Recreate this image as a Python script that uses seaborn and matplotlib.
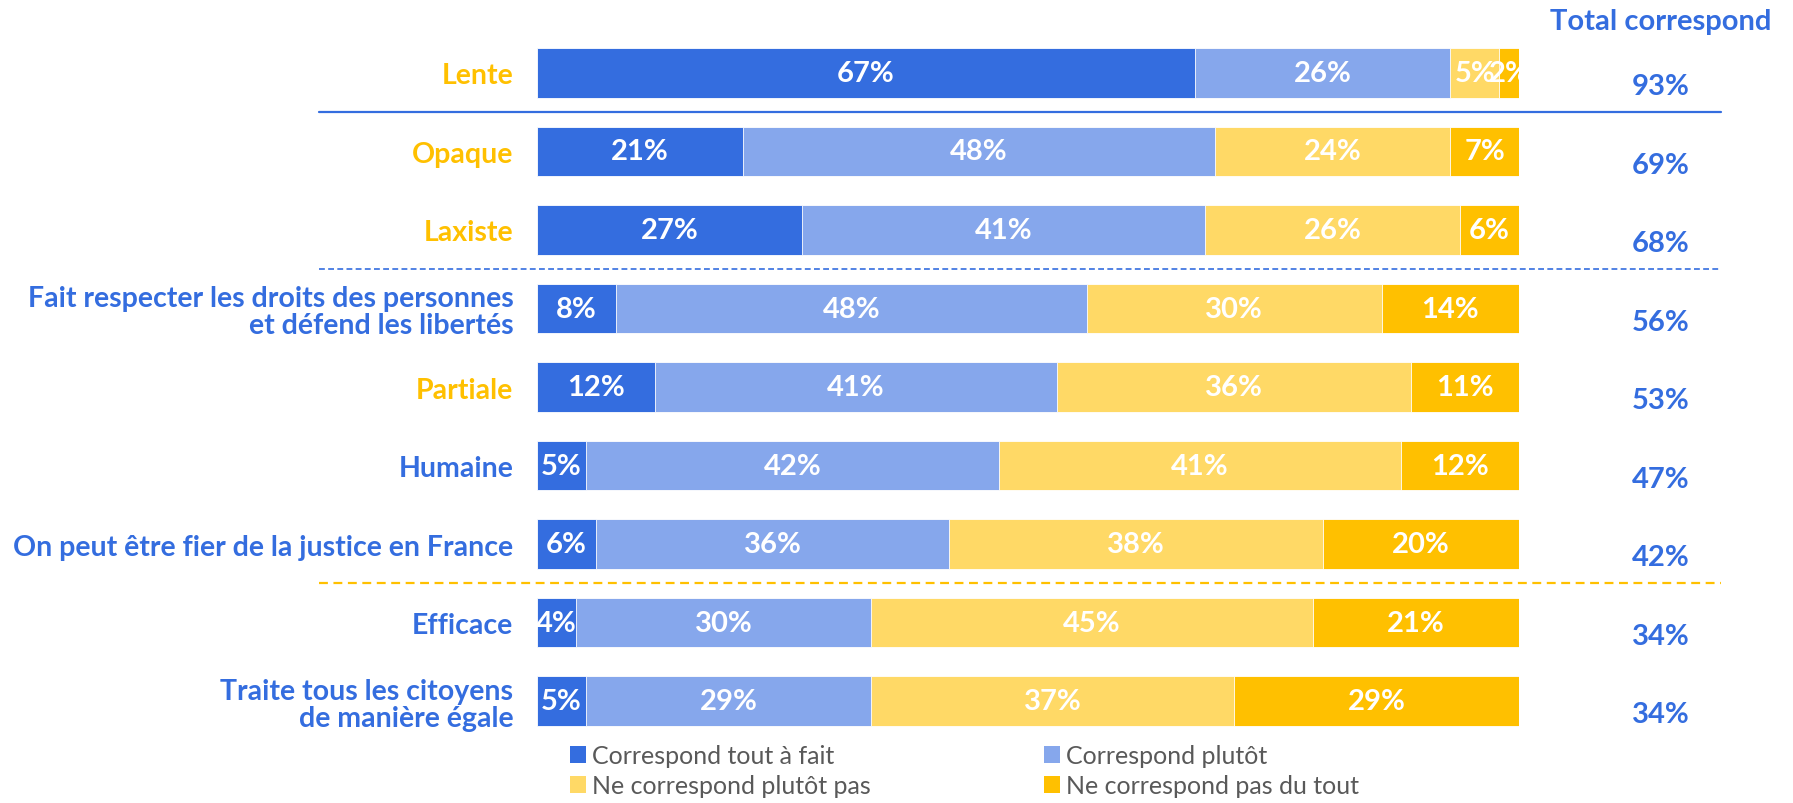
import numpy as np
import pandas as pd
import matplotlib
matplotlib.use("Agg")
import matplotlib.pyplot as plt
from matplotlib.patches import Patch
import seaborn as sns

# Survey items (top to bottom)
categories = [
    "Lente",
    "Opaque",
    "Laxiste",
    "Fait respecter les droits des personnes\net défend les libertés",
    "Partiale",
    "Humaine",
    "On peut être fier de la justice en France",
    "Efficace",
    "Traite tous les citoyens\nde manière égale",
]
# Shares of answers, in %
tout_a_fait = [67, 21, 27, 8, 12, 5, 6, 4, 5]
plutot = [26, 48, 41, 48, 41, 42, 36, 30, 29]
plutot_pas = [5, 24, 26, 30, 36, 41, 38, 45, 37]
pas_du_tout = [2, 7, 6, 14, 11, 12, 20, 21, 29]
total_correspond = [93, 69, 68, 56, 53, 47, 42, 34, 34]

series_names = [
    "Correspond tout à fait",
    "Correspond plutôt",
    "Ne correspond plutôt pas",
    "Ne correspond pas du tout",
]
negative_items = ["Lente", "Opaque", "Laxiste", "Partiale"]

BLUE = "#346DDF"
LIGHT_BLUE = "#86A7EC"
LIGHT_YELLOW = "#FFD966"
YELLOW = "#FFC000"
GREY = "#595959"
colors = [BLUE, LIGHT_BLUE, LIGHT_YELLOW, YELLOW]

sns.set_theme(style="white")
plt.rcParams["font.family"] = ["Lato", "DejaVu Sans"]

fig = plt.figure(figsize=(17.93, 8.04), dpi=100)
ax = fig.add_axes([0.2995, 0.078, 0.5477, 0.8788])

series = np.array([tout_a_fait, plutot, plutot_pas, pas_du_tout])
cum = np.cumsum(series, axis=0)
df = pd.DataFrame({"item": categories})

# Stacked bars: draw cumulative layers from the last segment to the first
for k in range(3, -1, -1):
    df["value"] = cum[k]
    sns.barplot(data=df, x="value", y="item", orient="h", order=categories,
                color=colors[k], saturation=1, width=0.63,
                edgecolor="white", linewidth=0.6, ax=ax)

# Segment labels
for k in range(4):
    for i in range(len(categories)):
        val = series[k, i]
        start = cum[k, i] - val
        ax.text(start + val / 2, i, f"{val}%", ha="center", va="center",
                color="white", fontsize=21, fontweight="bold")

ax.set_xlim(0, 100)
ax.set_ylim(len(categories) - 0.5, -0.5)
ax.set_xlabel("")
ax.set_ylabel("")
ax.set_xticks([])
ax.set_yticks(range(len(categories)))
ax.set_yticklabels(categories, fontsize=20.5, fontweight="bold")
for lab, name in zip(ax.get_yticklabels(), categories):
    lab.set_color(YELLOW if name in negative_items else BLUE)
    lab.set_linespacing(1.05)
ax.tick_params(axis="y", length=0, pad=17)
sns.despine(ax=ax, left=True, bottom=True)

# Total column
ax.text(114.4, -0.66, "Total correspond", ha="center", va="center",
        color=BLUE, fontsize=21, fontweight="bold", clip_on=False)
for i, t in enumerate(total_correspond):
    ax.text(114.4, i + 0.17, f"{t}%", ha="center", va="center",
            color=BLUE, fontsize=21, fontweight="bold", clip_on=False)

# Group separators
ax.plot([-22.2, 120.6], [0.5, 0.5], color=BLUE, lw=1.6, clip_on=False)
ax.plot([-22.2, 120.6], [2.5, 2.5], color=BLUE, lw=1.2,
        linestyle=(0, (3.5, 2)), clip_on=False)
ax.plot([-22.2, 120.6], [6.5, 6.5], color=YELLOW, lw=1.6,
        linestyle=(0, (4, 2.5)), clip_on=False)

handles = [Patch(facecolor=c, edgecolor="none", label=n)
           for c, n in zip(colors, series_names)]
fig.legend(handles=[handles[0], handles[2], handles[1], handles[3]], ncol=2,
           loc="upper left", bbox_to_anchor=(570 / 1793, 1 - 745 / 804),
           frameon=False, handlelength=0.65, handleheight=0.65,
           handletextpad=0.25, columnspacing=6.9, labelspacing=0.28,
           borderpad=0, borderaxespad=0, labelcolor=GREY,
           prop={"family": ["Lato", "DejaVu Sans"], "size": 18})

fig.savefig("out.png", dpi=100)
